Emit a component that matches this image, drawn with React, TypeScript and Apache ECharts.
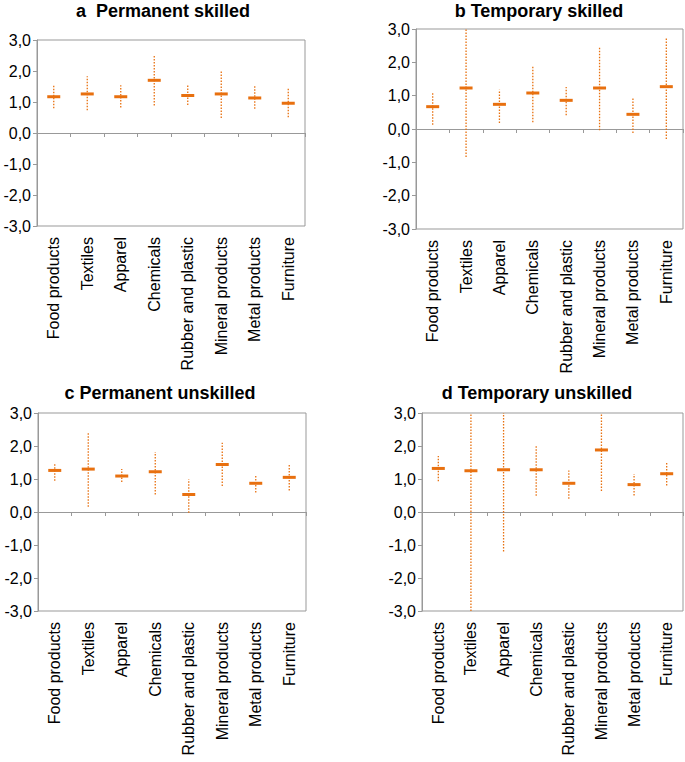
import React, { useEffect, useRef } from "react";
import * as echarts from "echarts";

const categories = [
  "Food products",
  "Textiles",
  "Apparel",
  "Chemicals",
  "Rubber and plastic",
  "Mineral products",
  "Metal products",
  "Furniture",
];

const yMin = -3;
const yMax = 3;
const yInterval = 1;

const titles = ["a  Permanent skilled", "b Temporary skilled", "c Permanent unskilled", "d Temporary unskilled"];

// a Permanent skilled
const aMean = [1.17, 1.26, 1.17, 1.7, 1.21, 1.26, 1.13, 0.96];
const aLow = [0.8, 0.73, 0.82, 0.89, 0.9, 0.48, 0.78, 0.51];
const aHigh = [1.57, 1.83, 1.54, 2.51, 1.53, 2.03, 1.51, 1.46];

// b Temporary skilled
const bMean = [0.67, 1.23, 0.74, 1.08, 0.86, 1.23, 0.44, 1.27];
const bLow = [0.13, -0.84, 0.18, 0.2, 0.41, -0.04, -0.12, -0.3];
const bHigh = [1.08, 3.0, 1.18, 1.9, 1.26, 2.46, 0.93, 2.76];

// c Permanent unskilled
const cMean = [1.26, 1.3, 1.09, 1.22, 0.53, 1.44, 0.87, 1.05];
const cLow = [0.95, 0.16, 0.91, 0.53, -0.02, 0.79, 0.59, 0.65];
const cHigh = [1.48, 2.43, 1.3, 1.82, 0.99, 2.1, 1.09, 1.45];

// d Temporary unskilled
const dMean = [1.32, 1.25, 1.28, 1.28, 0.87, 1.88, 0.83, 1.16];
const dLow = [0.93, -3.0, -1.2, 0.49, 0.4, 0.64, 0.5, 0.8];
const dHigh = [1.7, 3.0, 3.0, 2.0, 1.26, 3.0, 1.15, 1.52];

const FONT = "'Liberation Sans', Arial, sans-serif";
const ORANGE = "#E8700F";
const GREY = "#999999";

const panels = [
  { title: titles[0], mean: aMean, low: aLow, high: aHigh, grid: { left: 37, top: 40, width: 268, height: 186 }, tx: 163, ty: 11 },
  { title: titles[1], mean: bMean, low: bLow, high: bHigh, grid: { left: 416, top: 29, width: 267, height: 200 }, tx: 539, ty: 11 },
  { title: titles[2], mean: cMean, low: cLow, high: cHigh, grid: { left: 38, top: 413, width: 268, height: 198 }, tx: 160, ty: 393 },
  { title: titles[3], mean: dMean, low: dLow, high: dHigh, grid: { left: 422, top: 413, width: 261, height: 198 }, tx: 537, ty: 393 },
];

function renderItem(params: any, api: any) {
  const x = api.value(0);
  const low = api.value(1);
  const mean = api.value(2);
  const high = api.value(3);
  const pLow = api.coord([x, low]);
  const pHigh = api.coord([x, high]);
  const pMean = api.coord([x, mean]);
  return {
    type: "group",
    children: [
      {
        type: "line",
        shape: { x1: pLow[0], y1: pLow[1], x2: pHigh[0], y2: pHigh[1] },
        style: { stroke: ORANGE, lineWidth: 1.3, lineDash: [1.5, 1.5] },
      },
      {
        type: "rect",
        shape: { x: pMean[0] - 6.5, y: pMean[1] - 1.5, width: 13, height: 3 },
        style: { fill: ORANGE },
      },
    ],
  };
}

export default function App() {
  const ref = useRef<HTMLDivElement>(null);
  useEffect(() => {
    if (!ref.current) return;
    const chart = echarts.init(ref.current, null, { renderer: "svg" });
    const grid: any[] = [];
    const xAxis: any[] = [];
    const yAxis: any[] = [];
    const series: any[] = [];
    const graphic: any[] = [];
    panels.forEach((p, i) => {
      grid.push({ ...p.grid, show: true, borderColor: GREY, borderWidth: 1, containLabel: false });
      xAxis.push({
        type: "category",
        gridIndex: i,
        data: categories,
        position: "bottom",
        boundaryGap: true,
        axisLine: { show: true, onZero: true, lineStyle: { color: GREY, width: 1 } },
        axisTick: { show: true, length: 4, interval: 0, lineStyle: { color: GREY } },
        axisLabel: { show: false },
        splitLine: { show: false },
      });
      xAxis.push({
        type: "category",
        gridIndex: i,
        data: categories,
        position: "bottom",
        axisLine: { show: false, onZero: false },
        axisTick: { show: false },
        axisLabel: {
          show: true,
          rotate: 90,
          interval: 0,
          margin: 11,
          fontSize: 16,
          color: "#000",
          fontFamily: FONT,
        },
        splitLine: { show: false },
      });
      yAxis.push({
        type: "value",
        gridIndex: i,
        min: yMin,
        max: yMax,
        interval: yInterval,
        axisLine: { show: true, lineStyle: { color: GREY } },
        axisTick: { show: true, length: 4, lineStyle: { color: GREY } },
        splitLine: { show: false },
        axisLabel: {
          color: "#000",
          fontSize: 16,
          fontFamily: FONT,
          margin: 6,
          formatter: (v: number) => v.toFixed(1).replace(".", ","),
        },
      });
      series.push({
        type: "custom",
        xAxisIndex: i * 2,
        yAxisIndex: i,
        renderItem,
        clip: true,
        encode: { x: 0, y: [1, 2, 3] },
        data: categories.map((_, k) => [k, p.low[k], p.mean[k], p.high[k]]),
      });
      graphic.push({
        type: "text",
        x: p.tx,
        y: p.ty,
        style: {
          text: p.title,
          fontSize: 18,
          fontWeight: "bold",
          fontFamily: FONT,
          fill: "#000",
          textAlign: "center",
          textVerticalAlign: "middle",
        },
      });
    });
    chart.setOption({
      animation: false,
      backgroundColor: "#fff",
      grid,
      xAxis,
      yAxis,
      series,
      graphic,
    });
    return () => chart.dispose();
  }, []);
  return (
    <div
      ref={ref}
      style={{ position: "absolute", left: 0, top: 0, width: 685, height: 762 }}
    />
  );
}
